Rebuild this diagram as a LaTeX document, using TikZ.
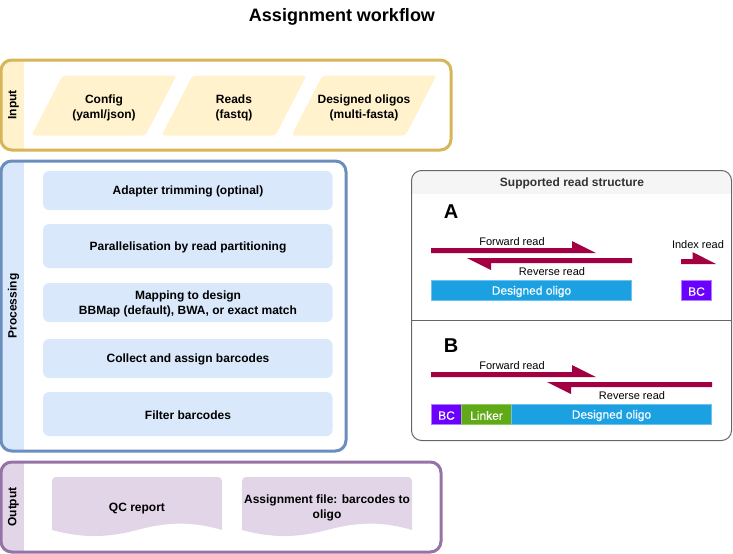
\documentclass[tikz,border=0pt]{standalone}
\usepackage{fontspec}
\setmainfont{Liberation Sans}
\newfontfamily\whitefont[FakeBold=0.25]{Liberation Sans}
\definecolor{inS}{HTML}{D6B656}\definecolor{inF}{HTML}{FFF2CC}
\definecolor{prS}{HTML}{6C8EBF}\definecolor{prF}{HTML}{DAE8FC}
\definecolor{ouS}{HTML}{9673A6}\definecolor{ouF}{HTML}{E1D5E7}
\definecolor{readc}{HTML}{A20042}\definecolor{olig}{HTML}{1BA1E2}\definecolor{oligS}{HTML}{6BC3EE}
\definecolor{bcF}{HTML}{6A00FF}\definecolor{bcS}{HTML}{B07FFF}\definecolor{lnk}{HTML}{60A917}\definecolor{lnkS}{HTML}{8FCB5A}
\definecolor{panS}{HTML}{666666}\definecolor{panF}{HTML}{F5F5F5}\definecolor{panT}{HTML}{333333}
\tikzset{
 lab/.style={font=\fontsize{9}{11.25}\selectfont\bfseries,align=center,text=black,inner sep=0pt,yshift=-0.8pt},
 rlab/.style={font=\fontsize{8.25}{10}\selectfont,align=center,text=black,inner sep=0pt,yshift=-0.6pt},
 wlab/.style={font=\whitefont\fontsize{9}{11}\selectfont,text=white,inner sep=0pt,yshift=-0.8pt},
 lane/.style={font=\fontsize{9}{11}\selectfont\bfseries,rotate=90,inner sep=0pt},
 stepbox/.style={rounded corners=4.5pt,fill=prF},
 letter/.style={font=\fontsize{15}{18}\selectfont\bfseries,inner sep=0pt},
 readarrow/.style={fill=readc,draw=none},
 seg/.style={line width=0.75pt}
}
\begin{document}
\begin{tikzpicture}[x=0.75pt,y=-0.75pt]
\useasboundingbox (0,0) rectangle (733,554);
\node[font=\fontsize{13.5}{16}\selectfont\bfseries,inner sep=0pt] (title) at (342,16.5) {Assignment workflow};

% Input lane
\begin{scope}
\clip[rounded corners=8pt] (1,60) rectangle (451,150);
\fill[inF] (1,60) rectangle (24,150);
\end{scope}
\draw[inS,line width=2.25pt,rounded corners=8pt] (1,60) rectangle (451,150);
\draw[white,line width=0.5pt] (24,62) -- (24,148);
\node[lane] (inputlab) at (13.5,105) {Input};
\foreach \x/\n/\t in {0/cfg/{Config\\(yaml/json)},130/rds/{Reads\\(fastq)},260/dsg/{Designed oligos\\(multi-fasta)}}{
 \fill[inF,rounded corners=2.5pt] (31.5+\x,135.5) -- (62.5+\x,75.5) -- (176.5+\x,75.5) -- (145.5+\x,135.5) -- cycle;
 \node[lab] (\n) at (104+\x,106.5) {\t};
}

% Processing lane
\begin{scope}
\clip[rounded corners=8pt] (1,161) rectangle (346,451);
\fill[prF] (1,161) rectangle (24,451);
\end{scope}
\draw[prS,line width=2.25pt,rounded corners=8pt] (1,161) rectangle (346,451);
\draw[white,line width=0.5pt] (24,163) -- (24,449);
\node[lane] (proclab) at (13.5,306) {Processing};
\foreach \a/\b/\n/\t in {171/210/s1/{Adapter trimming (optinal)},224/268/s2/{Parallelisation by read partitioning},283/322/s3/{Mapping to design\\BBMap (default), BWA, or exact match},339/378/s4/{Collect and assign barcodes},392/436/s5/{Filter barcodes}}{
 \fill[stepbox] (43,\a) rectangle (332.5,\b);
 \node[lab] (\n) at (188,{(\a+\b)/2}) {\t};
}

% Output lane
\begin{scope}
\clip[rounded corners=8pt] (1,462) rectangle (441,552);
\fill[ouF] (1,462) rectangle (24,552);
\end{scope}
\draw[ouS,line width=2.25pt,rounded corners=8pt] (1,462) rectangle (441,552);
\draw[white,line width=0.5pt] (24,464) -- (24,550);
\node[lane] (outlab) at (13.5,507) {Output};
\foreach \x in {0,190}{
 \fill[ouF] (52+\x,530) [rounded corners=3pt] -- (52+\x,477) -- (222+\x,477) [sharp corners] -- (222+\x,530)
   .. controls (195+\x,522) and (170+\x,521) .. (137+\x,530) .. controls (110+\x,537) and (85+\x,539) .. (52+\x,530) -- cycle;
}
\node[lab] (qc) at (137,507) {QC report};
\node[lab] (assign) at (327,507) {Assignment file: barcodes to\\oligo};

% Read structure panel
\begin{scope}
\clip[rounded corners=7.5pt] (411.5,170.5) rectangle (731.5,440.5);
\fill[panF] (411.5,170.5) rectangle (731.5,193.5);
\end{scope}
\draw[panS,line width=0.75pt,rounded corners=7.5pt] (411.5,170.5) rectangle (731.5,440.5);
\draw[panS,line width=0.75pt] (411.5,320.5) -- (731.5,320.5);
\node[font=\fontsize{9}{11}\selectfont\bfseries,text=panT,inner sep=0pt,yshift=-0.8pt] (paneltitle) at (572,182.5) {Supported read structure};
\node[letter] (A) at (451,212) {A};
\node[letter] (B) at (451,346) {B};

% Panel A
\fill[readarrow] (431,248) -- (572,248) -- (572,241) -- (596,253) -- (431,253) -- cycle;
\fill[readarrow] (632,258) -- (632,263) -- (491,263) -- (491,270) -- (467,258) -- cycle;
\fill[readarrow] (681,259) -- (692.5,259) -- (692.5,252) -- (716,264) -- (681,264) -- cycle;
\node[rlab] (fwA) at (512,241) {Forward read};
\node[rlab] (rvA) at (552,271) {Reverse read};
\node[rlab] (ix) at (698,243.5) {Index read};
\draw[seg,fill=olig,draw=oligS] (431.5,280.5) rectangle (631.5,300.5);
\node[wlab] (oA) at (531.5,290.5) {Designed oligo};
\draw[seg,fill=bcF,draw=bcS] (681.5,280.5) rectangle (711.5,300.5);
\node[wlab] (bcA) at (696.5,290.5) {BC};

% Panel B
\fill[readarrow] (431,372) -- (572,372) -- (572,365) -- (596,377) -- (431,377) -- cycle;
\fill[readarrow] (712,382) -- (712,387) -- (571,387) -- (571,394) -- (547,382) -- cycle;
\node[rlab] (fwB) at (512,365) {Forward read};
\node[rlab] (rvB) at (632,395) {Reverse read};
\draw[seg,fill=bcF,draw=bcS] (431.5,404.5) rectangle (461.5,424.5);
\node[wlab] (bcB) at (446.5,414.5) {BC};
\draw[seg,fill=lnk,draw=lnkS] (461.5,404.5) rectangle (511.5,424.5);
\node[wlab] (lk) at (486.5,414.5) {Linker};
\draw[seg,fill=olig,draw=oligS] (511.5,404.5) rectangle (711.5,424.5);
\node[wlab] (oB) at (611.5,414.5) {Designed oligo};
\end{tikzpicture}
\end{document}
